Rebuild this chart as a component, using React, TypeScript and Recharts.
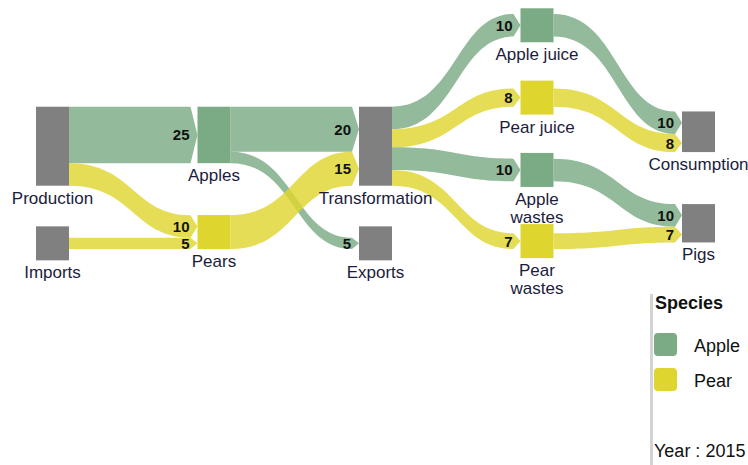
import React from 'react';
import { Sankey } from 'recharts';

// nodes, top to bottom inside each column
const nodeNames = [
  'Production', 'Imports',
  'Apples', 'Pears',
  'Transformation', 'Exports',
  'Apple juice', 'Pear juice', 'Apple wastes', 'Pear wastes',
  'Consumption', 'Pigs',
];
const nodeLabels = [
  ['Production'], ['Imports'],
  ['Apples'], ['Pears'],
  ['Transformation'], ['Exports'],
  ['Apple juice'], ['Pear juice'], ['Apple', 'wastes'], ['Pear', 'wastes'],
  ['Consumption'], ['Pigs'],
];
const nodeSpecies = ['', '', 'Apple', 'Pear', '', '', 'Apple', 'Pear', 'Apple', 'Pear', '', ''];

const linkSources = [
  'Production', 'Production', 'Imports',
  'Apples', 'Apples', 'Pears',
  'Transformation', 'Transformation', 'Transformation', 'Transformation',
  'Apple juice', 'Pear juice', 'Apple wastes', 'Pear wastes',
];
const linkTargets = [
  'Apples', 'Pears', 'Pears',
  'Transformation', 'Exports', 'Transformation',
  'Apple juice', 'Pear juice', 'Apple wastes', 'Pear wastes',
  'Consumption', 'Consumption', 'Pigs', 'Pigs',
];
const linkValues = [25, 10, 5, 20, 5, 15, 10, 8, 10, 7, 10, 8, 10, 7];
const linkSpecies = [
  'Apple', 'Pear', 'Pear',
  'Apple', 'Apple', 'Pear',
  'Apple', 'Pear', 'Apple', 'Pear',
  'Apple', 'Pear', 'Apple', 'Pear',
];

const legendSpecies = ['Apple', 'Pear'];
const year = 2015;

const speciesColors: Record<string, string> = {
  Apple: '#7aab85',
  Pear: '#dfd52f',
};
const GREY = '#808080';
const FONT = '"Liberation Sans", Arial, sans-serif';
const MIN_BOX = 34;

const data = {
  nodes: nodeNames.map((name, i) => ({ name, species: nodeSpecies[i] })),
  links: linkValues.map((value, i) => ({
    source: nodeNames.indexOf(linkSources[i]),
    target: nodeNames.indexOf(linkTargets[i]),
    value,
    species: linkSpecies[i],
  })),
};

const SankeyNode = (props: any) => {
  const { x, y, width, height, payload } = props;
  // small nodes are still drawn as a square box
  const h = Math.max(height, MIN_BOX);
  const top = y + height / 2 - h / 2;
  const lines = nodeLabels[nodeNames.indexOf(payload.name)] || [payload.name];
  const cx = x + width / 2;
  return (
    <g>
      <rect x={x} y={top} width={width} height={h} fill={speciesColors[payload.species] || GREY} />
      <text x={cx} y={top + h + 18} textAnchor="middle" fontSize={17} fill="#1c1c3c" fontFamily={FONT}>
        {lines.map((l: string, i: number) => (
          <tspan key={i} x={cx} dy={i === 0 ? 0 : 18}>{l}</tspan>
        ))}
      </text>
    </g>
  );
};

const SankeyLink = (props: any) => {
  const { sourceX, targetX, sourceY, targetY, sourceControlX, targetControlX, linkWidth, payload } = props;
  const half = linkWidth / 2;
  const ex = targetX - 7;
  // ribbon with a small arrow point at the target end
  const d = `M${sourceX},${sourceY - half}
    C${sourceControlX},${sourceY - half} ${targetControlX},${targetY - half} ${ex},${targetY - half}
    L${targetX},${targetY} L${ex},${targetY + half}
    C${targetControlX},${targetY + half} ${sourceControlX},${sourceY + half} ${sourceX},${sourceY + half} Z`;
  return (
    <g>
      <path d={d} fill={speciesColors[payload.species]} fillOpacity={0.82} stroke="none" />
      <text x={ex - 1} y={targetY} dominantBaseline="central" textAnchor="end" fontWeight="bold" fontSize={15} fill="#111" fontFamily={FONT}>
        {payload.value}
      </text>
    </g>
  );
};

const legendText: React.CSSProperties = {
  position: 'absolute',
  fontSize: 18,
  lineHeight: '18px',
  color: '#111',
  fontFamily: FONT,
  whiteSpace: 'nowrap',
};

export default function App() {
  return (
    <div style={{ position: 'absolute', left: 0, top: 0, width: 748, height: 465, overflow: 'hidden', background: '#fff' }}>
      <Sankey
        width={748}
        height={465}
        data={data}
        node={SankeyNode}
        link={SankeyLink}
        nodeWidth={33}
        nodePadding={52}
        iterations={32}
        align="left"
        margin={{ top: 14, right: 33, bottom: 216, left: 36 }}
      />
      <div style={{ position: 'absolute', left: 650, top: 294, width: 3, height: 171, background: '#d3d3d3' }} />
      <div style={{ ...legendText, left: 655, top: 294, fontWeight: 'bold' }}>Species</div>
      {legendSpecies.map((s, i) => (
        <React.Fragment key={s}>
          <div style={{ position: 'absolute', left: 654, top: 333 + i * 35, width: 23, height: 23, borderRadius: 4, background: speciesColors[s] }} />
          <div style={{ ...legendText, left: 694, top: 337 + i * 35 }}>{s}</div>
        </React.Fragment>
      ))}
      <div style={{ ...legendText, left: 654, top: 442 }}>Year : {year}</div>
    </div>
  );
}
